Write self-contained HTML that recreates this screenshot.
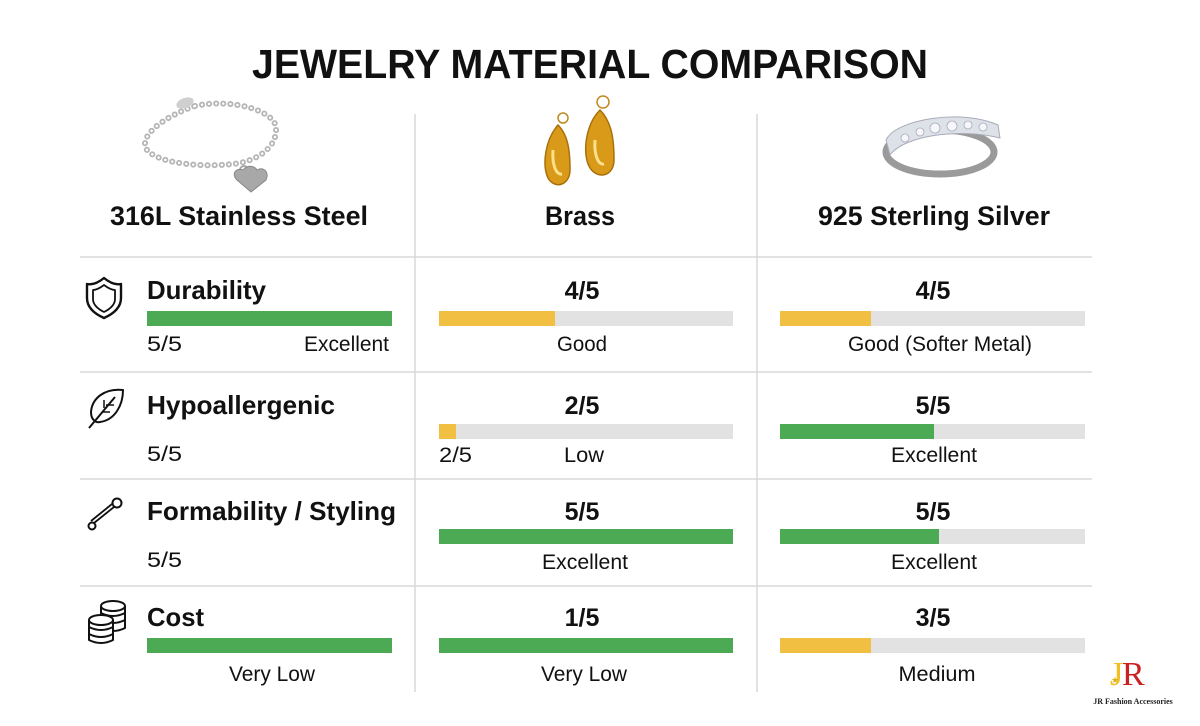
<!DOCTYPE html>
<html><head><meta charset="utf-8">
<style>
html,body{margin:0;padding:0;background:#fff;}
svg{display:block;}
text{font-family:"Liberation Sans",sans-serif;fill:#111;}
.b{font-weight:bold;}
</style></head>
<body>
<svg width="1200" height="726" viewBox="0 0 1200 726" xmlns="http://www.w3.org/2000/svg">
<rect width="1200" height="726" fill="#fff"/>
<text x="590" y="78" class="b" font-size="41" text-anchor="middle" textLength="676" lengthAdjust="spacingAndGlyphs">JEWELRY MATERIAL COMPARISON</text>

<g stroke="#d8d8d8" stroke-width="1.5">
<line x1="415" y1="114" x2="415" y2="692"/>
<line x1="757" y1="114" x2="757" y2="692"/>
<line x1="80" y1="257" x2="1092" y2="257"/>
<line x1="80" y1="372" x2="1092" y2="372"/>
<line x1="80" y1="479" x2="1092" y2="479"/>
<line x1="80" y1="586" x2="1092" y2="586"/>
</g>

<!-- bracelet -->
<path d="M195 106 C230 98 275 110 276 128 C277 145 262 158 240 163 C210 168 160 165 147 150 C138 138 160 118 195 106" fill="none" stroke="#b5b5b5" stroke-width="6" stroke-dasharray="0.1 7" stroke-linecap="round"/>
<path d="M195 106 C230 98 275 110 276 128 C277 145 262 158 240 163 C210 168 160 165 147 150 C138 138 160 118 195 106" fill="none" stroke="#fff" stroke-width="2.5" stroke-dasharray="0.1 7" stroke-linecap="round"/>
<ellipse cx="185" cy="103" rx="9" ry="5" fill="#cfcfcf" transform="rotate(-20 185 103)"/>
<circle cx="244" cy="170" r="4" fill="none" stroke="#aaa" stroke-width="2"/>
<path d="M251 192 L237 180 C231 174 236 167 243 170 C247 165 254 165 257 170 C263 166 270 172 266 180 Z" fill="#a8a8a8" stroke="#888" stroke-width="1"/>

<!-- earrings -->
<g fill="#d99a1a" stroke="#a8700a" stroke-width="1.5">
<path d="M558 125 C545 140 542 165 548 178 C555 190 570 185 570 170 C570 150 568 135 558 125 Z"/>
<path d="M600 110 C585 125 582 155 590 168 C598 180 614 176 614 160 C614 140 612 122 600 110 Z"/>
</g>
<path d="M553 150 C552 165 556 175 562 174" stroke="#fce08a" stroke-width="3" fill="none"/>
<path d="M595 140 C594 155 598 165 604 164" stroke="#fce08a" stroke-width="3" fill="none"/>
<circle cx="563" cy="118" r="5" fill="none" stroke="#c08a20" stroke-width="1.5"/>
<circle cx="603" cy="102" r="6" fill="none" stroke="#c08a20" stroke-width="1.5"/>

<!-- ring -->
<ellipse cx="940" cy="152" rx="54" ry="22" fill="none" stroke="#9a9a9a" stroke-width="7"/>
<path d="M886 140 C895 120 960 108 998 125 L1000 138 C960 128 905 135 890 155 Z" fill="#dde2e8" stroke="#aab" stroke-width="1"/>
<g fill="#f5f7fa" stroke="#aab" stroke-width="0.8">
<circle cx="905" cy="138" r="4"/><circle cx="920" cy="132" r="4"/><circle cx="935" cy="128" r="5"/><circle cx="952" cy="126" r="5"/><circle cx="968" cy="125" r="4"/><circle cx="983" cy="127" r="4"/>
</g>

<text x="239" y="225" class="b" font-size="27" text-anchor="middle" textLength="258" lengthAdjust="spacingAndGlyphs">316L Stainless Steel</text>
<text x="580" y="225" class="b" font-size="27" text-anchor="middle" textLength="70" lengthAdjust="spacingAndGlyphs">Brass</text>
<text x="934" y="225" class="b" font-size="27" text-anchor="middle" textLength="232" lengthAdjust="spacingAndGlyphs">925 Sterling Silver</text>

<!-- icons -->
<g fill="none" stroke="#111" stroke-width="2.4" stroke-linejoin="round">
<path d="M104 278 C98 283 92 285 87 284 L87 298 C87 308 95 314 104 318 C113 314 121 308 121 298 L121 284 C116 285 110 283 104 278 Z"/>
<path d="M104 285 C100 288 96 290 93 290 L93 299 C93 305 98 309 104 312 C110 309 115 305 115 299 L115 290 C112 290 108 288 104 285 Z" stroke-width="1.8"/>
<path d="M123 390 C105 388 92 398 91 412 C91 420 96 423 100 422 C115 420 123 405 123 390 Z" stroke-width="2"/>
<path d="M89 428 L115 397" stroke-width="2"/>
<path d="M102 412 L110 412 M106 405 L114 405 M104 408 L104 400" stroke-width="1.5"/>
<circle cx="117" cy="503" r="4.5" stroke-width="2"/>
<circle cx="92" cy="526" r="3.5" stroke-width="2"/>
<path d="M114 507 L94 523 M112 504 L91 521" stroke-width="1.8"/>
<g stroke-width="2">
<path d="M101 606 V628 Q113 634 125 628 V606"/>
<path d="M101 613 Q113 619 125 613 M101 620 Q113 626 125 620"/>
<ellipse cx="113" cy="606" rx="12" ry="5" fill="#fff"/>
<path d="M89 620 V640 Q101 646 113 640 V620" fill="#fff"/>
<path d="M89 627 Q101 633 113 627 M89 634 Q101 640 113 634"/>
<ellipse cx="101" cy="620" rx="12" ry="5" fill="#fff"/>
</g>
</g>

<text x="147" y="299" class="b" font-size="26" textLength="119" lengthAdjust="spacingAndGlyphs">Durability</text>
<text x="147" y="414" class="b" font-size="26" textLength="188" lengthAdjust="spacingAndGlyphs">Hypoallergenic</text>
<text x="147" y="520" class="b" font-size="26" textLength="249" lengthAdjust="spacingAndGlyphs">Formability / Styling</text>
<text x="147" y="626" class="b" font-size="26" textLength="57" lengthAdjust="spacingAndGlyphs">Cost</text>

<g font-size="25" text-anchor="middle">
<text x="582" y="299" class="b">4/5</text>
<text x="933" y="299" class="b">4/5</text>
<text x="582" y="414" class="b">2/5</text>
<text x="933" y="414" class="b">5/5</text>
<text x="582" y="520" class="b">5/5</text>
<text x="933" y="520" class="b">5/5</text>
<text x="582" y="626" class="b">1/5</text>
<text x="933" y="626" class="b">3/5</text>
</g>

<g>
<rect x="147" y="311" width="245" height="15" fill="#4caa55"/>
<rect x="439" y="311" width="294" height="15" fill="#e2e2e2"/><rect x="439" y="311" width="116" height="15" fill="#f1bf41"/>
<rect x="780" y="311" width="305" height="15" fill="#e2e2e2"/><rect x="780" y="311" width="91" height="15" fill="#f1bf41"/>
<rect x="439" y="424" width="294" height="15" fill="#e2e2e2"/><rect x="439" y="424" width="17" height="15" fill="#f1bf41"/>
<rect x="780" y="424" width="305" height="15" fill="#e2e2e2"/><rect x="780" y="424" width="154" height="15" fill="#4caa55"/>
<rect x="439" y="529" width="294" height="15" fill="#4caa55"/>
<rect x="780" y="529" width="305" height="15" fill="#e2e2e2"/><rect x="780" y="529" width="159" height="15" fill="#4caa55"/>
<rect x="147" y="638" width="245" height="15" fill="#4caa55"/>
<rect x="439" y="638" width="294" height="15" fill="#4caa55"/>
<rect x="780" y="638" width="305" height="15" fill="#e2e2e2"/><rect x="780" y="638" width="91" height="15" fill="#f1bf41"/>
</g>

<g font-size="21" fill="#222">
<text x="147" y="351" textLength="35" lengthAdjust="spacingAndGlyphs">5/5</text>
<text x="389" y="351" text-anchor="end" textLength="85" lengthAdjust="spacingAndGlyphs">Excellent</text>
<text x="582" y="351" text-anchor="middle" textLength="50" lengthAdjust="spacingAndGlyphs">Good</text>
<text x="940" y="351" text-anchor="middle" textLength="184" lengthAdjust="spacingAndGlyphs">Good (Softer Metal)</text>
<text x="147" y="461" textLength="35" lengthAdjust="spacingAndGlyphs">5/5</text>
<text x="439" y="462" textLength="33" lengthAdjust="spacingAndGlyphs">2/5</text>
<text x="584" y="462" text-anchor="middle" textLength="40" lengthAdjust="spacingAndGlyphs">Low</text>
<text x="934" y="462" text-anchor="middle" textLength="86" lengthAdjust="spacingAndGlyphs">Excellent</text>
<text x="147" y="567" textLength="35" lengthAdjust="spacingAndGlyphs">5/5</text>
<text x="585" y="569" text-anchor="middle" textLength="86" lengthAdjust="spacingAndGlyphs">Excellent</text>
<text x="934" y="569" text-anchor="middle" textLength="86" lengthAdjust="spacingAndGlyphs">Excellent</text>
<text x="272" y="681" text-anchor="middle" textLength="86" lengthAdjust="spacingAndGlyphs">Very Low</text>
<text x="584" y="681" text-anchor="middle" textLength="86" lengthAdjust="spacingAndGlyphs">Very Low</text>
<text x="937" y="681" text-anchor="middle" textLength="77" lengthAdjust="spacingAndGlyphs">Medium</text>
</g>

<text x="1110" y="685" font-size="34" style="fill:#f0c020;font-family:'Liberation Serif',serif">J</text>
<text x="1122" y="685" font-size="34" style="fill:#cc2020;font-family:'Liberation Serif',serif">R</text>
<text x="1111" y="683" font-size="9" style="fill:#e0b010">★</text>
<text x="1133" y="704" font-size="8" text-anchor="middle" style="font-family:'Liberation Serif',serif;font-weight:bold;fill:#222">JR Fashion Accessories</text>
</svg>
</body></html>
